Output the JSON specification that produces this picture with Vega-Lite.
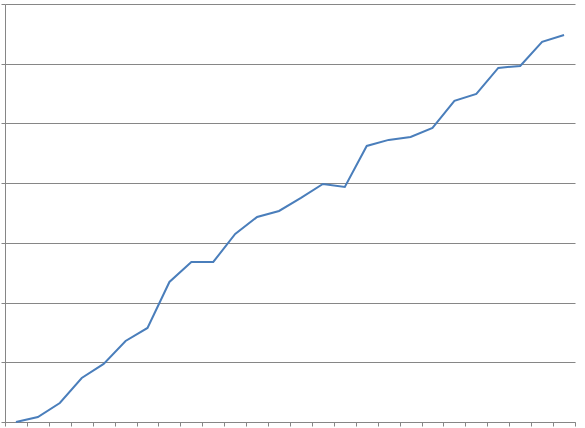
{
  "$schema": "https://vega.github.io/schema/vega-lite/v6.json",
  "autosize": "none",
  "width": 570,
  "height": 418,
  "padding": {"left": 5, "top": 4, "right": 10, "bottom": 6},
  "background": "white",
  "config": {"view": {"stroke": null}},
  "data": {"values": [
    {"i": 0, "v": 0},
    {"i": 1, "v": 0.84},
    {"i": 2, "v": 3.18},
    {"i": 3, "v": 7.37},
    {"i": 4, "v": 9.72},
    {"i": 5, "v": 13.57},
    {"i": 6, "v": 15.75},
    {"i": 7, "v": 23.45},
    {"i": 8, "v": 26.8},
    {"i": 9, "v": 26.8},
    {"i": 10, "v": 31.49},
    {"i": 11, "v": 34.34},
    {"i": 12, "v": 35.34},
    {"i": 13, "v": 37.52},
    {"i": 14, "v": 39.87},
    {"i": 15, "v": 39.36},
    {"i": 16, "v": 46.23},
    {"i": 17, "v": 47.24},
    {"i": 18, "v": 47.74},
    {"i": 19, "v": 49.25},
    {"i": 20, "v": 53.77},
    {"i": 21, "v": 54.94},
    {"i": 22, "v": 59.3},
    {"i": 23, "v": 59.63},
    {"i": 24, "v": 63.65},
    {"i": 25, "v": 64.82}
  ]},
  "mark": {"type": "line", "color": "#4a7ebb", "strokeWidth": 2},
  "encoding": {
    "x": {
      "field": "i", "type": "quantitative",
      "scale": {"domain": [-0.5, 25.5], "nice": false, "zero": false},
      "axis": {
        "title": null, "labels": false, "grid": false,
        "values": [-0.5,0.5,1.5,2.5,3.5,4.5,5.5,6.5,7.5,8.5,9.5,10.5,11.5,12.5,13.5,14.5,15.5,16.5,17.5,18.5,19.5,20.5,21.5,22.5,23.5,24.5,25.5],
        "domainColor": "#868686", "tickColor": "#868686", "tickSize": 4, "domainWidth": 1
      }
    },
    "y": {
      "field": "v", "type": "quantitative",
      "scale": {"domain": [0, 70], "nice": false},
      "axis": {
        "title": null, "labels": false, "grid": true,
        "values": [0,10,20,30,40,50,60,70],
        "gridColor": "#868686", "gridOpacity": 1,
        "domainColor": "#868686", "tickColor": "#868686", "tickSize": 4
      }
    }
  }
}
